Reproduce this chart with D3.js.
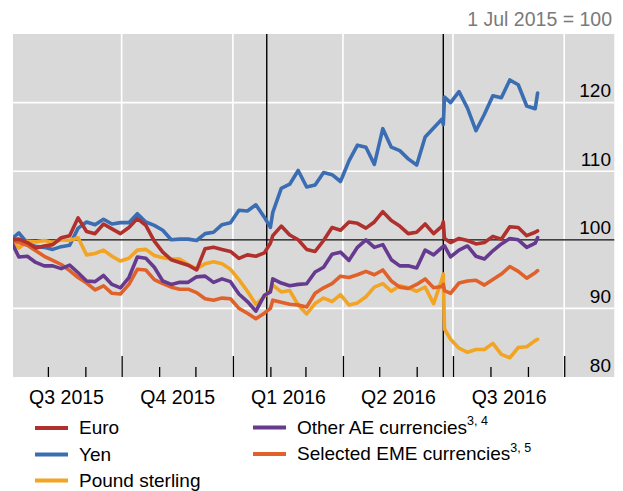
<!DOCTYPE html>
<html><head><meta charset="utf-8">
<script src="https://cdn.jsdelivr.net/npm/d3@7"></script>
<style>body{margin:0;background:#fff}svg{display:block}text{font-family:"Liberation Sans",Arial,sans-serif}</style>
</head><body>
<svg id="c" width="623" height="491"></svg>
<script>
const dates = ["2015-07-01","2015-07-08","2015-07-15","2015-07-22","2015-07-29","2015-08-05","2015-08-12","2015-08-19","2015-08-26","2015-09-02","2015-09-09","2015-09-16","2015-09-23","2015-09-30","2015-10-07","2015-10-14","2015-10-21","2015-10-28","2015-11-04","2015-11-11","2015-11-18","2015-11-25","2015-12-02","2015-12-09","2015-12-16","2015-12-23","2015-12-30","2016-01-06","2016-01-13","2016-01-20","2016-01-27","2016-02-01","2016-02-03","2016-02-10","2016-02-17","2016-02-24","2016-03-02","2016-03-09","2016-03-16","2016-03-23","2016-03-30","2016-04-06","2016-04-13","2016-04-20","2016-04-27","2016-05-04","2016-05-11","2016-05-18","2016-05-25","2016-06-01","2016-06-08","2016-06-15","2016-06-22","2016-06-23","2016-06-24","2016-06-29","2016-07-06","2016-07-13","2016-07-20","2016-07-27","2016-08-03","2016-08-10","2016-08-17","2016-08-24","2016-08-31","2016-09-07","2016-09-09"];

const euro = [100,100.1,99.6,98.8,99.1,99.3,100.3,100.6,103.2,101.2,
100.9,102.3,101.6,100.9,101.8,103.1,102.1,99.8,98.2,97.1,
96.7,96.3,95.6,98.7,98.9,98.6,98.3,97.3,97.8,97.6,
98.1,99.5,100.6,102.0,100.7,100.0,98.6,98.3,99.9,101.8,
101.4,102.6,102.4,101.7,102.6,104.1,102.8,102.0,100.9,101.1,
102.3,100.9,102.0,102.6,100.2,99.6,100.2,99.9,99.4,99.6,
100.5,100.1,101.9,101.8,100.6,101.1,101.3];

const yen = [100,101.0,99.5,99.0,98.9,98.6,99.0,99.2,101.7,102.6,
102.2,103.0,102.3,102.5,102.5,103.8,102.6,102.1,101.4,100.0,
100.1,100.1,99.9,100.9,101.1,102.2,102.5,104.3,104.2,105.1,
103.3,101.8,104.0,107.5,108.1,110.1,107.7,108.0,109.8,109.5,
108.5,111.5,113.8,113.5,111.0,116.2,113.5,113.0,111.8,110.9,
115.0,116.3,117.6,116.8,120.8,120.0,121.6,119.2,115.9,118.3,
121.0,120.7,123.3,122.6,119.5,119.1,121.4];

const pound = [100,98.8,99.8,99.7,99.9,99.6,100.0,99.9,100.3,97.8,
98.0,98.5,97.6,96.9,97.3,98.5,98.6,97.7,97.4,97.2,
97.2,96.4,95.8,96.5,96.8,96.5,95.7,94.2,92.5,90.6,
91.7,92.6,93.4,92.4,92.6,90.5,89.2,90.7,91.5,91.0,
92.0,90.5,90.8,91.7,93.1,93.6,92.5,93.3,93.0,92.5,
93.1,90.7,94.3,95.0,87.0,85.5,84.2,83.6,84.0,84.0,
84.9,83.3,82.8,84.3,84.4,85.3,85.5];

const otherAE = [100,97.5,97.6,96.7,96.2,96.2,95.8,96.3,95.2,94.0,
93.9,94.8,93.5,93.0,94.5,97.5,97.3,96.0,94.0,93.5,
93.8,93.8,94.6,94.7,93.8,94.3,93.9,92.1,91.0,89.6,
91.9,92.4,94.3,93.7,93.3,93.5,93.6,95.3,96.0,97.9,
98.2,97.0,98.9,100.0,98.9,99.3,97.1,96.2,96.2,95.9,
98.5,97.8,98.9,99.0,99.1,97.5,98.5,99.1,97.6,97.2,
98.4,99.4,100.2,100.0,98.9,99.5,100.3];

const eme = [100,99.6,99.2,98.4,97.6,97.0,96.4,95.5,94.5,93.7,
92.7,93.3,92.2,92.1,93.5,95.7,95.6,94.2,93.6,93.1,
92.8,92.8,92.3,91.4,91.2,91.5,91.4,90.0,89.3,88.5,
89.3,90.0,91.2,90.9,90.6,90.5,90.2,92.2,93.0,93.6,
94.7,94.5,94.9,95.4,94.9,95.6,94.0,93.1,92.9,93.5,
94.3,93.0,93.2,93.5,92.6,92.2,93.7,94.0,94.1,93.4,
94.2,95.0,96.1,95.4,94.4,95.2,95.5];

const yTicks = [80, 90, 100, 110, 120];
const quarterStarts = ["2015-07-01","2015-10-01","2016-01-01","2016-04-01","2016-07-01","2016-10-01"];
const quarterLabels = ["Q3 2015","Q4 2015","Q1 2016","Q2 2016","Q3 2016"];
const monthStarts = ["2015-08-01","2015-09-01","2015-11-01","2015-12-01","2016-02-01","2016-03-01","2016-05-01","2016-06-01","2016-08-01","2016-09-01"];
const eventDates = ["2016-01-29","2016-06-23"];
const unitNote = "1 Jul 2015 = 100";

const seriesNames = ["Euro","Yen","Pound sterling","Other AE currencies","Selected EME currencies"];
const seriesSup = ["","","","3, 4","3, 5"];
const seriesColors = ["#b0302e","#3b6db3","#f2a423","#663a8e","#e0612a"];
const seriesValues = [euro, yen, pound, otherAE, eme];

const parse = d3.timeParse("%Y-%m-%d");
const svg = d3.select("#c");
const P = {l:13, r:614.3, t:34, b:377};
const FONT = '"Liberation Sans", Arial, sans-serif';

const x = d3.scaleTime().domain([parse("2015-07-01"), parse("2016-11-12")]).range([10.4, 615.0]);
const y = d3.scaleLinear().domain([80, 130]).range([P.b, P.t]);

svg.append("rect").attr("x", P.l).attr("y", P.t).attr("width", P.r - P.l).attr("height", P.b - P.t).attr("fill", "#d9d9d9");

const defs = svg.append("defs");
defs.append("clipPath").attr("id","clip").append("rect").attr("x", P.l).attr("y", P.t).attr("width", P.r - P.l).attr("height", P.b - P.t);

// white gridlines
const g = svg.append("g");
g.selectAll("line.h").data(yTicks.filter(v => v > 80)).join("line")
  .attr("x1", P.l).attr("x2", P.r).attr("y1", d => y(d)).attr("y2", d => y(d))
  .attr("stroke", "#fff").attr("stroke-width", 1.6);
g.selectAll("line.v").data(quarterStarts.slice(1)).join("line")
  .attr("x1", d => x(parse(d))).attr("x2", d => x(parse(d))).attr("y1", P.t).attr("y2", P.b)
  .attr("stroke", "#fff").attr("stroke-width", 1.6);

// month ticks (short) and quarter ticks (long), drawn up from the bottom
svg.append("g").attr("transform", `translate(0,${P.b})`)
  .call(d3.axisBottom(x).tickValues(monthStarts.map(parse)).tickSize(-10).tickFormat(""))
  .call(a => a.select(".domain").remove())
  .call(a => a.selectAll("line").attr("stroke", "#000").attr("stroke-width", 1.3));
svg.append("g").attr("transform", `translate(0,${P.b})`)
  .call(d3.axisBottom(x).tickValues(quarterStarts.slice(1).map(parse)).tickSize(-21).tickFormat(""))
  .call(a => a.select(".domain").remove())
  .call(a => a.selectAll("line").attr("stroke", "#000").attr("stroke-width", 1.3));

// quarter labels centred in each quarter
const mids = quarterLabels.map((q, i) => new Date((parse(quarterStarts[i]).getTime() + parse(quarterStarts[i+1]).getTime()) / 2));
svg.append("g").attr("transform", `translate(0,${P.b})`)
  .call(d3.axisBottom(x).tickValues(mids).tickSize(0).tickPadding(0).tickFormat((d, i) => quarterLabels[i]))
  .call(a => a.select(".domain").remove())
  .call(a => a.selectAll("text").attr("dy", null).attr("y", 26.5).attr("font-size", 19.5).attr("fill", "#000")
      .attr("font-family", FONT));

// black reference lines
svg.append("line").attr("x1", P.l).attr("x2", P.r).attr("y1", y(100)).attr("y2", y(100)).attr("stroke", "#000").attr("stroke-width", 1.3);
svg.selectAll("line.ev").data(eventDates).join("line").attr("class","ev")
  .attr("x1", d => x(parse(d))).attr("x2", d => x(parse(d))).attr("y1", P.t).attr("y2", P.b)
  .attr("stroke", "#000").attr("stroke-width", 1.4);

// series
const line = d3.line().x((d, i) => x(parse(dates[i]))).y(d => y(d)).curve(d3.curveLinear);
const order = [1, 2, 4, 3, 0];
svg.append("g").attr("clip-path", "url(#clip)")
  .selectAll("path").data(order).join("path")
  .attr("d", k => line(seriesValues[k]))
  .attr("fill", "none").attr("stroke", k => seriesColors[k]).attr("stroke-width", 3.6)
  .attr("stroke-linejoin", "round").attr("stroke-linecap", "round");

// y labels at right, above gridlines
svg.append("g").attr("transform", `translate(611,0)`)
  .call(d3.axisLeft(y).tickValues(yTicks).tickSize(0).tickPadding(0))
  .call(a => a.select(".domain").remove())
  .call(a => a.selectAll("text").attr("dy", null).attr("y", -6).attr("font-size", 19).attr("fill", "#000")
      .attr("font-family", FONT));

// unit note
svg.append("text").attr("x", 612).attr("y", 26).attr("text-anchor", "end")
  .attr("font-size", 19.5).attr("fill", "#7a7a7a").text(unitNote);

// legend
const legPos = [[35, 428], [35, 454.5], [35, 480.5], [253, 427.5], [253, 454]];
const leg = svg.append("g").selectAll("g").data(seriesNames).join("g")
  .attr("transform", (d, i) => `translate(${legPos[i][0]},${legPos[i][1]})`);
leg.append("line").attr("x1", 0).attr("x2", 33).attr("stroke", (d, i) => seriesColors[i]).attr("stroke-width", 4);
const lt = leg.append("text").attr("x", 44).attr("y", 6.3).attr("font-size", 19).attr("fill", "#000");
lt.append("tspan").text(d => d);
lt.append("tspan").attr("dy", -8.5).attr("font-size", 12.5).text((d, i) => seriesSup[i]);
</script>
</body></html>
